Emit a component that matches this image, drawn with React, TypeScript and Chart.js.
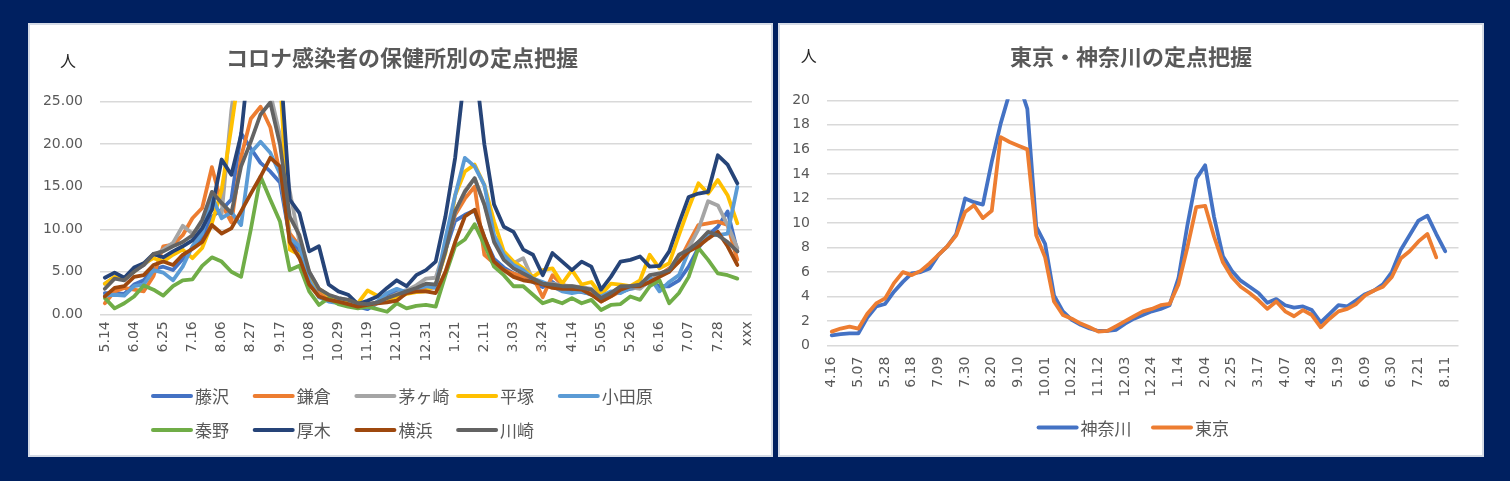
import React, { useEffect, useRef } from "react";
import { Chart, registerables } from "chart.js";

Chart.register(...registerables);

// ---------------- Left chart data ----------------
const leftLabels = [
  "5.14","5.21","5.28","6.04","6.11","6.18","6.25","7.02","7.09","7.16",
  "7.23","7.30","8.06","8.13","8.20","8.27","9.03","9.10","9.17","9.24",
  "10.01","10.08","10.15","10.22","10.29","11.05","11.12","11.19","11.26","12.03",
  "12.10","12.17","12.24","12.31","1.07","1.14","1.21","1.28","2.04","2.11",
  "2.18","2.25","3.03","3.10","3.17","3.24","3.31","4.07","4.14","4.21",
  "4.28","5.05","5.12","5.19","5.26","6.02","6.09","6.16","6.23","6.30",
  "7.07","7.14","7.21","7.28","8.04","8.11","xxx",
];

const fujisawa = [
  2.5, 2.5, 2.4, 3.5, 4.0, 5.3, 5.6, 5.2, 6.5, 7.8,
  9.0, 11.5, 12.3, 13.5, 21.3, 19.5, 17.8, 16.8, 15.5, 9.0,
  7.5, 4.0, 2.5, 1.8, 1.4, 1.2, 0.9, 0.6, 1.3, 2.2,
  2.6, 2.8, 3.2, 3.5, 3.5, 7.5, 11.0, 11.7, 12.2, 9.0,
  6.5, 5.5, 4.8, 4.4, 3.8, 3.2, 3.8, 3.0, 2.8, 2.6,
  2.4, 1.8, 2.4, 2.6, 3.0, 3.2, 3.8, 3.3, 3.3, 4.0,
  5.6, 7.8, 9.3, 10.3, 12.1, 7.4,
];
const kamakura = [
  1.3, 2.7, 3.1, 2.9, 2.7, 4.5, 8.0, 8.2, 9.3, 11.3,
  12.5, 17.3, 13.0, 10.8, 18.5, 23.0, 24.4, 22.0, 16.5, 9.5,
  8.0, 4.5, 2.5, 2.0, 1.8, 1.6, 1.2, 1.0, 1.3, 1.8,
  2.2, 2.6, 3.0, 3.0, 3.2, 8.0, 11.7, 13.6, 15.0, 7.0,
  6.0, 5.2, 4.8, 4.4, 4.4, 2.0, 4.6, 3.5, 3.1, 2.7,
  2.5, 1.5, 2.1, 2.7, 3.1, 3.5, 3.8, 4.6, 5.4, 6.2,
  8.4, 10.5, 10.7, 10.9, 10.5, 6.4,
];
const chigasaki = [
  3.6, 4.3, 4.3, 5.2, 5.8, 6.8, 7.6, 8.4, 10.4, 9.5,
  10.5, 12.5, 11.8, 24.0, 32, 30, 28, 26, 21.0, 14.5,
  8.5, 5.0, 3.0, 2.2, 1.9, 1.7, 1.3, 1.2, 1.4, 1.9,
  2.4, 2.8, 3.4, 4.2, 4.3, 8.0, 12.0, 14.5, 16.0, 13.0,
  9.0, 7.0, 6.0, 6.6, 4.0, 3.6, 3.6, 3.4, 3.3, 3.2,
  3.0, 1.9, 2.5, 3.2, 3.2, 3.0, 4.0, 4.6, 5.0, 6.5,
  7.8, 10.0, 13.3, 12.8, 10.5, 7.8,
];
const hiratsuka = [
  3.6, 4.4, 4.3, 5.0, 6.0, 6.6, 6.2, 7.0, 7.6, 6.6,
  7.8, 10.7, 14.6, 22.0, 30, 34, 33, 32, 28, 7.6,
  7.0, 4.5, 3.0, 2.2, 1.8, 1.5, 1.3, 2.8, 2.2, 1.8,
  2.0, 2.4, 2.6, 2.7, 3.5, 7.2, 14.0, 16.8, 17.6, 15.2,
  10.9, 7.4, 6.2, 5.4, 4.4, 5.2, 5.4, 3.6, 5.2, 3.5,
  3.8, 2.3, 3.6, 3.5, 3.3, 4.0, 7.0, 5.4, 6.0, 9.3,
  12.5, 15.4, 14.2, 15.8, 14.0, 10.7,
];
const odawara = [
  2.2, 2.3, 2.2, 3.3, 3.5, 5.2, 4.9, 4.0, 5.6, 8.0,
  9.5, 13.8, 11.3, 12.0, 10.5, 19.0, 20.3, 19.0, 16.5, 9.0,
  8.0, 4.0, 2.0, 1.5, 1.3, 1.2, 1.0, 0.8, 1.5, 2.5,
  3.0, 2.6, 3.0, 3.3, 3.1, 8.9, 14.0, 18.4, 17.4, 15.2,
  9.3, 7.0, 5.8, 5.2, 4.2, 3.8, 3.3, 2.7, 2.5, 2.7,
  2.3, 2.1, 2.7, 2.5, 3.1, 3.5, 4.4, 2.7, 3.8, 4.6,
  7.4, 8.5, 9.3, 9.3, 9.5, 15.0,
];
const hadano = [
  1.9, 0.7, 1.3, 2.1, 3.4, 2.9, 2.2, 3.3, 4.0, 4.1,
  5.7, 6.7, 6.2, 5.0, 4.4, 10.0, 16.2, 13.5, 10.9, 5.2,
  5.7, 2.7, 1.1, 1.9, 1.2, 0.9, 0.7, 0.9, 0.6, 0.3,
  1.3, 0.7, 1.0, 1.1, 0.9, 4.6, 8.0, 8.8, 10.6, 8.2,
  5.6, 4.6, 3.3, 3.3, 2.3, 1.3, 1.7, 1.3, 1.9, 1.3,
  1.7, 0.5, 1.1, 1.2, 2.1, 1.7, 3.3, 4.0, 1.3, 2.5,
  4.4, 7.8, 6.4, 4.8, 4.6, 4.2,
];
const atsugi = [
  4.3, 4.9, 4.3, 5.5, 6.0, 7.1, 6.7, 7.4, 8.0, 8.7,
  10.1, 12.3, 18.2, 16.4, 21.1, 32, 35, 36, 30, 13.5,
  11.9, 7.4, 8.0, 3.5, 2.7, 2.3, 1.2, 1.6, 2.1, 3.1,
  4.0, 3.3, 4.6, 5.2, 6.2, 11.5, 18.4, 28.6, 30, 20.0,
  12.9, 10.3, 9.7, 7.6, 7.0, 4.6, 7.2, 6.2, 5.2, 6.2,
  5.6, 2.9, 4.4, 6.2, 6.4, 6.8, 5.6, 5.7, 7.4, 10.7,
  13.8, 14.2, 14.4, 18.7, 17.6, 15.4,
];
const yokohama = [
  2.1, 3.1, 3.3, 4.4, 4.6, 5.8, 6.2, 5.8, 7.0, 7.7,
  8.5, 10.5, 9.5, 10.1, 12.1, 14.2, 16.2, 18.4, 17.4, 8.5,
  6.6, 3.5, 2.1, 1.7, 1.5, 1.2, 0.9, 1.1, 1.3, 1.4,
  1.6, 2.5, 2.7, 2.7, 2.5, 5.0, 8.5, 11.5, 12.3, 9.1,
  6.2, 5.2, 4.4, 4.0, 3.8, 3.5, 3.1, 3.0, 3.0, 2.9,
  2.3, 1.5, 2.1, 2.9, 3.3, 3.3, 3.8, 4.4, 5.0, 6.2,
  7.4, 8.0, 8.9, 9.7, 8.0, 5.8,
];
const kawasaki = [
  3.0, 4.2, 4.0, 5.0, 5.8, 7.1, 7.4, 8.0, 8.5, 9.3,
  11.1, 14.4, 13.1, 11.9, 17.4, 20.3, 23.5, 24.9, 20.0, 11.5,
  9.3, 5.0, 3.0, 2.3, 1.9, 1.7, 1.3, 1.2, 1.4, 1.9,
  2.3, 2.7, 3.1, 3.6, 3.5, 7.4, 12.1, 14.4, 16.0, 12.9,
  8.5, 6.4, 5.4, 4.8, 4.2, 3.6, 3.5, 3.3, 3.3, 3.1,
  2.9, 1.9, 2.5, 3.3, 3.3, 3.5, 4.6, 4.8, 5.2, 7.0,
  7.6, 8.5, 9.7, 9.3, 8.5, 7.4,
];

const leftNames = ["藤沢", "鎌倉", "茅ヶ崎", "平塚", "小田原", "秦野", "厚木", "横浜", "川崎"];
const leftSeries = [fujisawa, kamakura, chigasaki, hiratsuka, odawara, hadano, atsugi, yokohama, kawasaki];
const leftColors = ["#4472C4", "#ED7D31", "#A5A5A5", "#FFC000", "#5B9BD5", "#70AD47", "#264478", "#9E480E", "#636363"];
const leftTitle = "コロナ感染者の保健所別の定点把握";

// ---------------- Right chart data ----------------
const rightLabels = [
  "4.16","4.23","4.30","5.07","5.14","5.21","5.28","6.04","6.11","6.18",
  "6.25","7.02","7.09","7.16","7.23","7.30","8.06","8.13","8.20","8.27",
  "9.03","9.10","9.17","9.24","10.01","10.08","10.15","10.22","10.29","11.05",
  "11.12","11.19","11.26","12.03","12.10","12.17","12.24","12.31","1.07","1.14",
  "1.21","1.28","2.04","2.11","2.18","2.25","3.03","3.10","3.17","3.24",
  "3.31","4.07","4.14","4.21","4.28","5.05","5.12","5.19","5.26","6.02",
  "6.09","6.16","6.23","6.30","7.07","7.14","7.21","7.28","8.04","8.11",
  "8.18",
];
const kanagawa = [
  0.85, 0.95, 1.0, 1.0, 2.3, 3.2, 3.4, 4.4, 5.2, 5.9,
  6.0, 6.3, 7.4, 8.1, 9.1, 12.0, 11.7, 11.5, 15.0, 18.1,
  20.6, 21.5, 19.3, 9.7, 8.3, 4.1, 2.8, 2.1, 1.7, 1.4,
  1.2, 1.2, 1.3, 1.8, 2.2, 2.5, 2.8, 3.0, 3.3, 5.5,
  9.8, 13.6, 14.7, 10.5, 7.3, 6.1, 5.3, 4.8, 4.3, 3.5,
  3.8, 3.3, 3.1, 3.2, 2.9, 1.9, 2.6, 3.3, 3.2, 3.7,
  4.2, 4.5, 5.0, 6.0, 7.8, 9.0, 10.2, 10.6, 9.1, 7.7,
];
const tokyo = [
  1.15, 1.4, 1.55, 1.4, 2.6, 3.45, 3.85, 5.1, 6.0, 5.75,
  6.1, 6.7, 7.4, 8.1, 9.0, 10.9, 11.45, 10.4, 11.0, 17.0,
  16.6, 16.3, 16.0, 9.0, 7.2, 3.6, 2.5, 2.2, 1.8, 1.5,
  1.15, 1.2, 1.6, 2.0, 2.4, 2.8, 3.0, 3.3, 3.4, 5.0,
  8.0, 11.3, 11.4, 8.9, 6.8, 5.6, 4.8, 4.3, 3.7, 3.0,
  3.6, 2.8, 2.4, 2.9, 2.5, 1.5, 2.2, 2.8, 3.0, 3.4,
  4.1, 4.5, 4.8, 5.6, 7.1, 7.7, 8.5, 9.1, 7.2,
];
const rightNames = ["神奈川", "東京"];
const rightSeries = [kanagawa, tokyo];
const rightColors = ["#4472C4", "#ED7D31"];
const rightTitle = "東京・神奈川の定点把握";

// ---------------- helpers ----------------
const CJK = '"Noto Sans CJK JP", "Noto Sans CJK SC", sans-serif';
const TICK_FONT = { family: '"DejaVu Sans", sans-serif', size: 14 };
const TEXT_GREY = "#595959";

type Decor = {
  title: string;
  titleX: number;
  titleY: number;
  unitX: number;
  unitY: number;
  legend: { x: number; y: number }[];
};

function decorPlugin(d: Decor) {
  return {
    id: "decor",
    afterDraw(chart: any) {
      const ctx = chart.ctx as CanvasRenderingContext2D;
      ctx.save();
      ctx.textBaseline = "middle";
      ctx.textAlign = "center";
      ctx.fillStyle = TEXT_GREY;
      ctx.font = `bold 22px ${CJK}`;
      ctx.fillText(d.title, d.titleX, d.titleY);
      ctx.fillStyle = "#262626";
      ctx.font = `16px ${CJK}`;
      ctx.fillText("人", d.unitX, d.unitY);
      chart.data.datasets.forEach((ds: any, i: number) => {
        const p = d.legend[i];
        if (!p) return;
        ctx.strokeStyle = ds.borderColor;
        ctx.lineWidth = 4;
        ctx.lineCap = "round";
        ctx.beginPath();
        ctx.moveTo(p.x + 2, p.y);
        ctx.lineTo(p.x + 40, p.y);
        ctx.stroke();
        ctx.fillStyle = TEXT_GREY;
        ctx.textAlign = "left";
        ctx.font = `17px ${CJK}`;
        ctx.fillText(ds.label, p.x + 44, p.y + 1);
      });
      ctx.restore();
    },
  };
}

function buildConfig(opts: {
  labels: string[];
  names: string[];
  series: number[][];
  colors: string[];
  max: number;
  step: number;
  decimals: number;
  yWidth: number;
  xHeight: number;
  padTop: number;
  padRight: number;
  yPad: number;
  xPad: number;
  decor: Decor;
}) {
  const n = opts.series.length;
  return {
    type: "line" as const,
    data: {
      labels: opts.labels,
      datasets: opts.series.map((s, i) => ({
        label: opts.names[i],
        data: s,
        borderColor: opts.colors[i],
        backgroundColor: opts.colors[i],
        borderWidth: 3.8,
        pointRadius: 0,
        pointHoverRadius: 0,
        tension: 0,
        fill: false,
        borderCapStyle: "round",
        borderJoinStyle: "round",
        order: n - i,
        clip: 1,
      })),
    },
    options: {
      responsive: false,
      animation: false,
      devicePixelRatio: 1,
      events: [],
      layout: { padding: { left: 0, right: opts.padRight, top: opts.padTop, bottom: 0 } },
      plugins: {
        legend: { display: false },
        title: { display: false },
        tooltip: { enabled: false },
      },
      scales: {
        x: {
          type: "category",
          offset: true,
          grid: { display: false, drawTicks: false },
          border: { display: false },
          ticks: {
            autoSkip: false,
            minRotation: 90,
            maxRotation: 90,
            padding: opts.xPad,
            color: TEXT_GREY,
            font: TICK_FONT,
            callback: (_v: any, idx: number) => (idx % 3 === 0 ? opts.labels[idx] : ""),
          },
          afterFit: (s: any) => {
            s.height = opts.xHeight;
          },
        },
        y: {
          min: 0,
          max: opts.max,
          grid: { color: "#D9D9D9", lineWidth: 1.5, drawTicks: false },
          border: { display: false },
          ticks: {
            stepSize: opts.step,
            padding: opts.yPad,
            color: TEXT_GREY,
            font: TICK_FONT,
            callback: (v: any) => Number(v).toFixed(opts.decimals),
          },
          afterFit: (s: any) => {
            s.width = opts.yWidth;
          },
        },
      },
    },
    plugins: [decorPlugin(opts.decor)],
  };
}

export default function App() {
  const leftRef = useRef<HTMLCanvasElement | null>(null);
  const rightRef = useRef<HTMLCanvasElement | null>(null);

  useEffect(() => {
    const cols = 5;
    const leftLegend = leftNames.map((_, i) => ({
      x: 121 + (i % cols) * 101.7,
      y: 371 + Math.floor(i / cols) * 34,
    }));
    const left = new Chart(
      leftRef.current as HTMLCanvasElement,
      buildConfig({
        labels: leftLabels,
        names: leftNames,
        series: leftSeries,
        colors: leftColors,
        max: 25,
        step: 5,
        decimals: 2,
        yWidth: 70,
        xHeight: 140.7,
        padTop: 76.7,
        padRight: 19,
        yPad: 17,
        xPad: 7,
        decor: {
          title: leftTitle,
          titleX: 372,
          titleY: 33,
          unitX: 38,
          unitY: 35.5,
          legend: leftLegend,
        },
      }) as any
    );
    const right = new Chart(
      rightRef.current as HTMLCanvasElement,
      buildConfig({
        labels: rightLabels,
        names: rightNames,
        series: rightSeries,
        colors: rightColors,
        max: 20,
        step: 2,
        decimals: 0,
        yWidth: 47.3,
        xHeight: 109.3,
        padTop: 75.3,
        padRight: 20.3,
        yPad: 17.3,
        xPad: 11,
        decor: {
          title: rightTitle,
          titleX: 351,
          titleY: 32,
          unitX: 28.7,
          unitY: 30.5,
          legend: [
            { x: 256.6, y: 402.5 },
            { x: 371, y: 402.5 },
          ],
        },
      }) as any
    );
    return () => {
      left.destroy();
      right.destroy();
    };
  }, []);

  const panel: React.CSSProperties = {
    position: "absolute",
    top: 23,
    height: 434,
    boxSizing: "border-box",
    border: "2px solid #D5DBE6",
    background: "#FFFFFF",
  };

  return (
    <div
      style={{
        position: "fixed",
        left: 0,
        top: 0,
        width: 1510,
        height: 481,
        background: "#002060",
        overflow: "hidden",
      }}
    >
      <div style={{ ...panel, left: 28, width: 745 }}>
        <canvas ref={leftRef} width={741} height={430} style={{ position: "absolute", left: 0, top: 0 }} />
      </div>
      <div style={{ ...panel, left: 778, width: 706 }}>
        <canvas ref={rightRef} width={702} height={430} style={{ position: "absolute", left: 0, top: 0 }} />
      </div>
    </div>
  );
}
